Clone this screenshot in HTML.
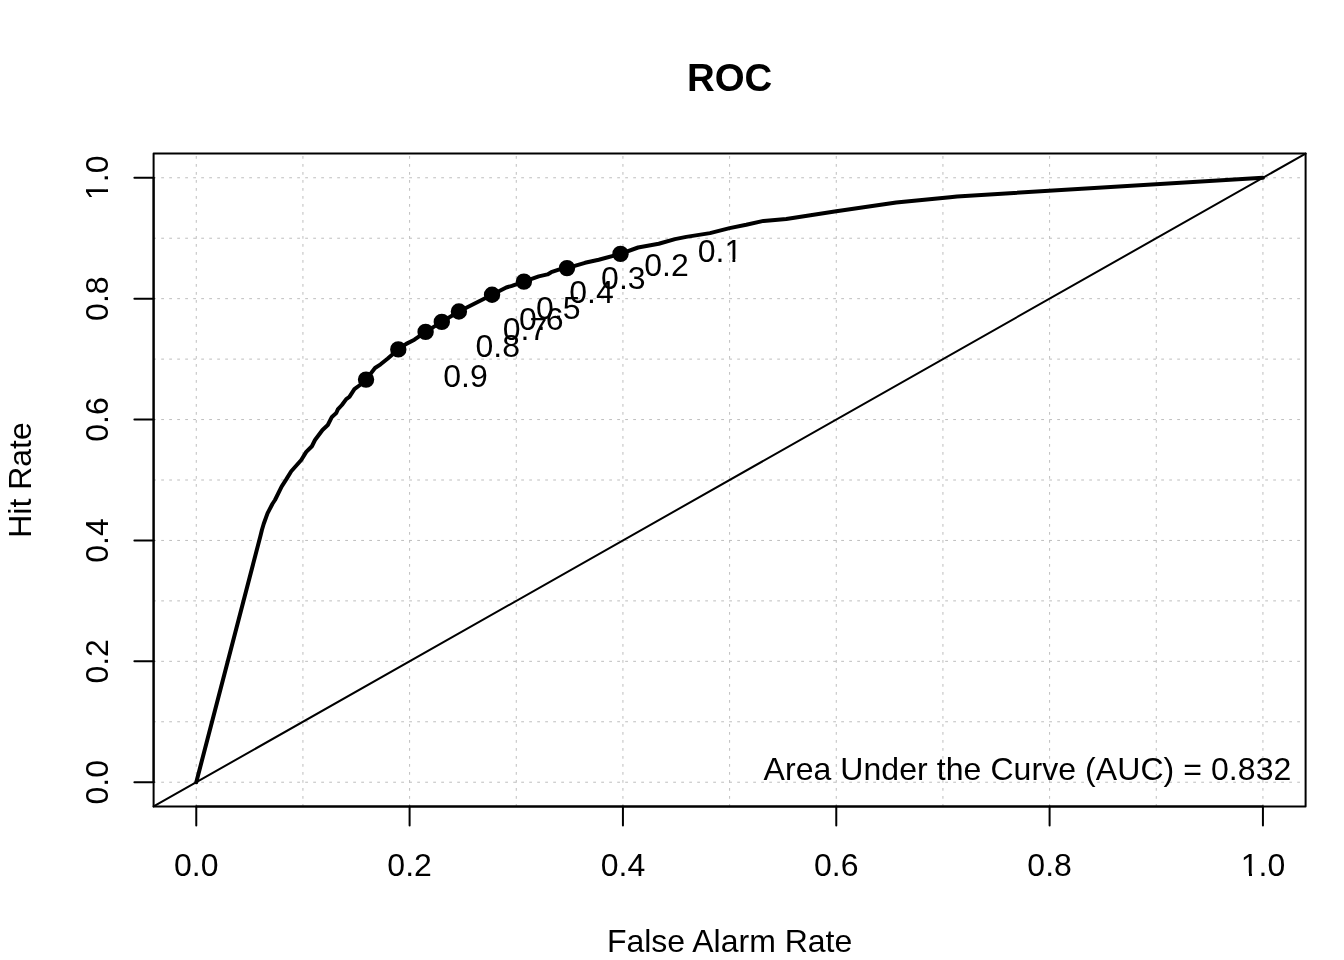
<!DOCTYPE html>
<html lang="en">
<head>
<meta charset="utf-8">
<title>ROC</title>
<style>
html,body{margin:0;padding:0;background:#fff;}
body{width:1344px;height:960px;overflow:hidden;}
svg{display:block;}
text{font-family:"Liberation Sans",Arial,Helvetica,sans-serif;fill:#000;}
</style>
</head>
<body>
<svg width="1344" height="960" viewBox="0 0 1344 960">
<rect x="0" y="0" width="1344" height="960" fill="#ffffff"/>

<defs>
<clipPath id="c1x"><path clip-rule="evenodd" d="M-3000,-3000H3000V3000H-3000Z M1242.591,872.750H1249.000V876.200H1242.591Z M1252.000,872.750H1257.591V876.200H1252.000Z"/></clipPath>
<clipPath id="c1y"><path clip-rule="evenodd" d="M-3000,-3000H3000V3000H-3000Z M-20.342,-2.750H-14.192V0.700H-20.342Z M-11.367,-2.750H-5.342V0.700H-11.367Z"/></clipPath>
<clipPath id="c1t"><path clip-rule="evenodd" d="M-3000,-3000H3000V3000H-3000Z M726.288,258.950H732.438V262.400H726.288Z M735.263,258.950H741.288V262.400H735.263Z"/></clipPath>
</defs>
<g stroke="#bebebe" stroke-width="1" stroke-dasharray="2 6" stroke-linecap="round" fill="none">
<line x1="153.6" y1="782.22" x2="1305.6" y2="782.22"/>
<line x1="153.6" y1="721.78" x2="1305.6" y2="721.78"/>
<line x1="153.6" y1="661.33" x2="1305.6" y2="661.33"/>
<line x1="153.6" y1="600.89" x2="1305.6" y2="600.89"/>
<line x1="153.6" y1="540.44" x2="1305.6" y2="540.44"/>
<line x1="153.6" y1="480.00" x2="1305.6" y2="480.00"/>
<line x1="153.6" y1="419.56" x2="1305.6" y2="419.56"/>
<line x1="153.6" y1="359.11" x2="1305.6" y2="359.11"/>
<line x1="153.6" y1="298.67" x2="1305.6" y2="298.67"/>
<line x1="153.6" y1="238.22" x2="1305.6" y2="238.22"/>
<line x1="153.6" y1="177.78" x2="1305.6" y2="177.78"/>
<line x1="196.27" y1="806.4" x2="196.27" y2="153.6"/>
<line x1="302.93" y1="806.4" x2="302.93" y2="153.6"/>
<line x1="409.60" y1="806.4" x2="409.60" y2="153.6"/>
<line x1="516.27" y1="806.4" x2="516.27" y2="153.6"/>
<line x1="622.93" y1="806.4" x2="622.93" y2="153.6"/>
<line x1="729.60" y1="806.4" x2="729.60" y2="153.6"/>
<line x1="836.27" y1="806.4" x2="836.27" y2="153.6"/>
<line x1="942.93" y1="806.4" x2="942.93" y2="153.6"/>
<line x1="1049.60" y1="806.4" x2="1049.60" y2="153.6"/>
<line x1="1156.27" y1="806.4" x2="1156.27" y2="153.6"/>
<line x1="1262.93" y1="806.4" x2="1262.93" y2="153.6"/>
</g>
<line x1="153.6" y1="806.4" x2="1305.6" y2="153.6" stroke="#000" stroke-width="2" stroke-linecap="round"/>
<rect x="153.6" y="153.6" width="1152.0" height="652.8" fill="none" stroke="#000" stroke-width="2" stroke-linejoin="round"/>
<g stroke="#000" stroke-width="2" stroke-linecap="round" fill="none">
<line x1="196.27" y1="806.4" x2="1262.93" y2="806.4"/>
<line x1="153.6" y1="782.22" x2="153.6" y2="177.78"/>
<line x1="196.27" y1="806.4" x2="196.27" y2="825.6"/>
<line x1="153.6" y1="782.22" x2="134.4" y2="782.22"/>
<line x1="409.60" y1="806.4" x2="409.60" y2="825.6"/>
<line x1="153.6" y1="661.33" x2="134.4" y2="661.33"/>
<line x1="622.93" y1="806.4" x2="622.93" y2="825.6"/>
<line x1="153.6" y1="540.44" x2="134.4" y2="540.44"/>
<line x1="836.27" y1="806.4" x2="836.27" y2="825.6"/>
<line x1="153.6" y1="419.56" x2="134.4" y2="419.56"/>
<line x1="1049.60" y1="806.4" x2="1049.60" y2="825.6"/>
<line x1="153.6" y1="298.67" x2="134.4" y2="298.67"/>
<line x1="1262.93" y1="806.4" x2="1262.93" y2="825.6"/>
<line x1="153.6" y1="177.78" x2="134.4" y2="177.78"/>
</g>
<g font-size="32" text-anchor="middle">
<text x="196.27" y="875.5">0.0</text>
<text transform="translate(107.5,782.22) rotate(-90)">0.0</text>
<text x="409.60" y="875.5">0.2</text>
<text transform="translate(107.5,661.33) rotate(-90)">0.2</text>
<text x="622.93" y="875.5">0.4</text>
<text transform="translate(107.5,540.44) rotate(-90)">0.4</text>
<text x="836.27" y="875.5">0.6</text>
<text transform="translate(107.5,419.56) rotate(-90)">0.6</text>
<text x="1049.60" y="875.5">0.8</text>
<text transform="translate(107.5,298.67) rotate(-90)">0.8</text>
<text x="1262.93" y="875.5" clip-path="url(#c1x)">1.0</text>
<text transform="translate(107.5,177.78) rotate(-90)" clip-path="url(#c1y)">1.0</text>
</g>
<text x="729.5999999999999" y="952.3" font-size="32" text-anchor="middle">False Alarm Rate</text>
<text transform="translate(30.7,480.0) rotate(-90)" font-size="32" text-anchor="middle">Hit Rate</text>
<text x="729.5999999999999" y="90.8" font-size="38.4" font-weight="bold" text-anchor="middle">ROC</text>
<path d="M196.27,782.22 L260.30,536.50 L261.90,530.00 L263.75,523.75 L267.50,513.40 L272.50,503.75 L275.00,500.00 L281.60,486.60 L286.25,479.40 L291.25,471.25 L301.25,460.00 L306.25,451.90 L311.90,446.25 L315.00,440.00 L322.50,430.00 L327.80,425.00 L331.90,416.90 L336.25,413.10 L337.80,409.40 L341.90,405.00 L346.25,399.10 L349.40,396.90 L354.40,389.10 L360.00,385.00 L366.05,379.60 L375.00,368.00 L380.60,364.30 L387.50,358.75 L398.30,349.40 L406.25,343.90 L414.40,339.70 L418.75,336.60 L425.60,331.90 L441.80,321.90 L458.90,311.50 L492.05,294.80 L506.25,287.50 L511.90,285.90 L523.90,281.60 L538.75,276.40 L547.50,274.40 L551.25,272.20 L558.75,269.60 L567.00,268.10 L585.00,262.80 L598.75,259.70 L620.50,253.90 L638.10,247.50 L658.75,243.75 L675.00,239.10 L686.25,236.90 L710.00,233.10 L729.60,228.10 L746.25,224.80 L763.50,220.90 L775.00,219.90 L786.25,219.00 L836.25,211.25 L896.25,202.50 L950.00,197.20 L957.00,196.40 L1262.93,177.78" fill="none" stroke="#000" stroke-width="4" stroke-linejoin="round" stroke-linecap="round"/>
<circle cx="366.05" cy="379.6" r="7.2" fill="#000" stroke="#000" stroke-width="2"/>
<circle cx="398.3" cy="349.4" r="7.2" fill="#000" stroke="#000" stroke-width="2"/>
<circle cx="425.6" cy="331.9" r="7.2" fill="#000" stroke="#000" stroke-width="2"/>
<circle cx="441.8" cy="321.9" r="7.2" fill="#000" stroke="#000" stroke-width="2"/>
<circle cx="458.9" cy="311.5" r="7.2" fill="#000" stroke="#000" stroke-width="2"/>
<circle cx="492.05" cy="294.8" r="7.2" fill="#000" stroke="#000" stroke-width="2"/>
<circle cx="523.9" cy="281.6" r="7.2" fill="#000" stroke="#000" stroke-width="2"/>
<circle cx="567" cy="268.1" r="7.2" fill="#000" stroke="#000" stroke-width="2"/>
<circle cx="620.5" cy="253.9" r="7.2" fill="#000" stroke="#000" stroke-width="2"/>
<g font-size="32">
<text x="443.25" y="387.40">0.9</text>
<text x="475.50" y="357.20">0.8</text>
<text x="502.80" y="339.70">0.7</text>
<text x="519.00" y="329.70">0.6</text>
<text x="536.10" y="319.30">0.5</text>
<text x="569.25" y="302.60">0.4</text>
<text x="601.10" y="289.40">0.3</text>
<text x="644.20" y="275.90">0.2</text>
<text x="697.70" y="261.70" clip-path="url(#c1t)">0.1</text>
</g>
<text x="763.5" y="780.2" font-size="32" textLength="527.8" lengthAdjust="spacing">Area Under the Curve (AUC) = 0.832</text>
</svg>
</body>
</html>
